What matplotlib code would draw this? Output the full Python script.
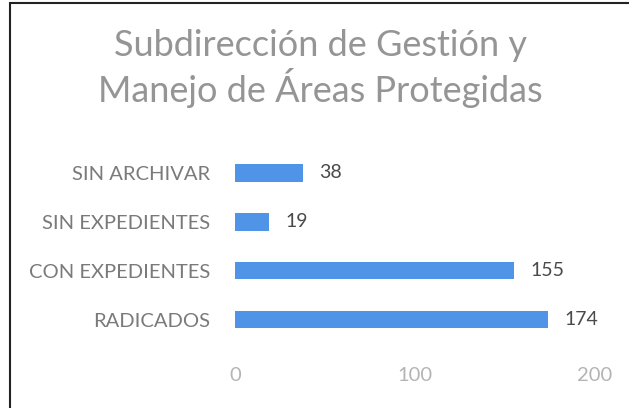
import matplotlib.pyplot as plt
from matplotlib.patches import Rectangle

# data
categorias = ['RADICADOS', 'CON EXPEDIENTES', 'SIN EXPEDIENTES', 'SIN ARCHIVAR']
valores = [174, 155, 19, 38]
xticks = [0, 100, 200]

plt.rcParams['font.family'] = ['Lato', 'DejaVu Sans']

fig = plt.figure(figsize=(6.29, 4.08), dpi=100)
ax = fig.add_axes([0.3736, 0.156, 0.5724, 0.48])

barras = ax.barh(range(len(categorias)), valores, height=0.35, color='#4f94e6')
for i, v in enumerate(valores):
    ax.text(v + 9, i, str(v), va='center', ha='left', fontsize=14,
            color='#4a4a4a')

ax.set_xlim(0, 200)
ax.set_ylim(-0.5, len(categorias) - 0.5)
ax.set_yticks(range(len(categorias)))
ax.set_yticklabels(categorias, fontsize=14.5, color='#7a7a7a')
ax.set_xticks(xticks)
ax.set_xticklabels([str(t) for t in xticks], fontsize=14.5, color='#b4b4b4')
ax.tick_params(axis='y', length=0, pad=18)
ax.tick_params(axis='x', length=0, pad=16)
for s in ax.spines.values():
    s.set_visible(False)

fig.text(0.51, 0.832, 'Subdirección de Gestión y\nManejo de Áreas Protegidas',
         ha='center', va='center', fontsize=26, color='#959595', linespacing=1.2)

# marco escaneado
fig.add_artist(Rectangle((10 / 629, -0.1), 1.2, 1.1 - 3 / 408, transform=fig.transFigure,
                         fill=False, edgecolor='#222222', linewidth=1.5))

fig.savefig('out.png', dpi=100)
